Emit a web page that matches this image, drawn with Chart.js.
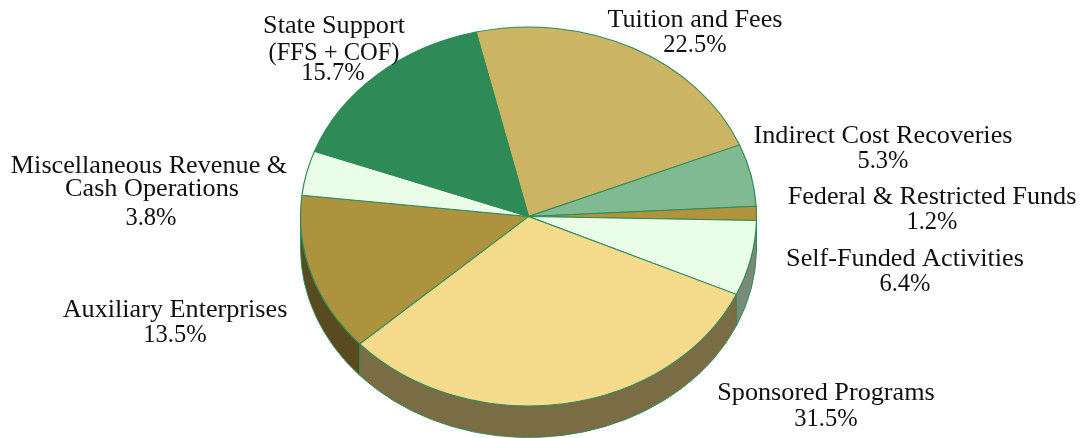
<!DOCTYPE html>
<html>
<head>
<meta charset="utf-8">
<title>Revenue by source</title>
<script src="https://cdn.jsdelivr.net/npm/chart.js@4/dist/chart.umd.min.js"></script>
<style>
  html, body { margin: 0; padding: 0; background: #fff; overflow: hidden; }
  canvas { display: block; }
</style>
</head>
<body>
<canvas id="pieChart" width="1081" height="438"></canvas>
<script>
// data, clockwise from the top
const categories = ["Tuition and Fees", "Indirect Cost Recoveries", "Federal & Restricted Funds", "Self-Funded Activities", "Sponsored Programs", "Auxiliary Enterprises", "Miscellaneous Revenue &|Cash Operations", "State Support|(FFS + COF)"];
const shares = [22.5, 5.3, 1.2, 6.4, 31.5, 13.5, 3.8, 15.7];
const topColors = ["#cbb463", "#80ba93", "#b0933a", "#e9fde9", "#f5db8b", "#ad933d", "#e9fde9", "#2e8b57"];
const wallColors = ["#655a31", "#405d49", "#59491d", "#7a8a78", "#7a6d45", "#5a4a1f", "#748074", "#17452b"];
// where each label goes: centre x of each line, baseline y of each line
const labelX = [[695, 695], [883, 883], [932, 932], [905, 905], [826, 826], [175, 175], [149, 152, 151], [334, 334, 333]];
const labelY = [[27, 52], [143, 168], [204, 229], [266, 291], [400, 426], [317, 342], [173, 196, 225], [33, 60, 80]];

const lineColor = "#2e8b57";
const centerX = 528.5, centerY = 216.5;
const radiusX = 228, squash = 189.5 / 228; // pie is a circle squashed in y
const depth = 31.5;

const tiltPlugin = {
  id: "tilt",
  beforeDatasetsDraw(chart) {
    const ctx = chart.ctx;
    ctx.save();
    ctx.translate(centerX, centerY);
    ctx.scale(1, squash);
    ctx.translate(-centerX, -centerY);
    // side wall, only the front half shows
    const h = depth / squash;
    chart.getDatasetMeta(0).data.forEach((arc, i) => {
      const p = arc.getProps(["x", "y", "startAngle", "endAngle", "outerRadius"], true);
      const a = Math.max(p.startAngle, 0);
      const b = Math.min(p.endAngle, Math.PI);
      if (a >= b) return;
      ctx.beginPath();
      ctx.arc(p.x, p.y, p.outerRadius, a, b);
      ctx.arc(p.x, p.y + h, p.outerRadius, b, a, true);
      ctx.closePath();
      ctx.fillStyle = wallColors[i];
      ctx.fill();
      ctx.strokeStyle = lineColor;
      ctx.lineWidth = 1;
      ctx.stroke();
    });
  },
  afterDatasetsDraw(chart) {
    const ctx = chart.ctx;
    ctx.restore();
    ctx.fillStyle = "#111";
    ctx.textAlign = "center";
    ctx.textBaseline = "alphabetic";
    categories.forEach((name, i) => {
      const lines = name.split("|");
      ctx.font = '26.2px "Liberation Serif"';
      lines.forEach((t, j) => {
        // capitals run wide in this font, squeeze that one line
        if (t === "(FFS + COF)") ctx.fillText(t, labelX[i][j], labelY[i][j], 131);
        else ctx.fillText(t, labelX[i][j], labelY[i][j]);
      });
      ctx.font = '24.5px "Liberation Serif"';
      ctx.fillText(shares[i].toFixed(1) + "%", labelX[i][lines.length], labelY[i][lines.length]);
    });
  }
};

new Chart(document.getElementById("pieChart"), {
  type: "pie",
  data: {
    labels: categories,
    datasets: [{
      data: shares,
      backgroundColor: topColors,
      borderColor: lineColor,
      borderWidth: 1.2,
      borderAlign: "center",
      clip: false
    }]
  },
  options: {
    responsive: false,
    animation: false,
    rotation: -13.3,
    radius: radiusX,
    layout: { padding: { left: 0, right: 24, top: 0, bottom: 5 } },
    plugins: { legend: { display: false }, tooltip: { enabled: false } }
  },
  plugins: [tiltPlugin]
});
</script>
</body>
</html>
